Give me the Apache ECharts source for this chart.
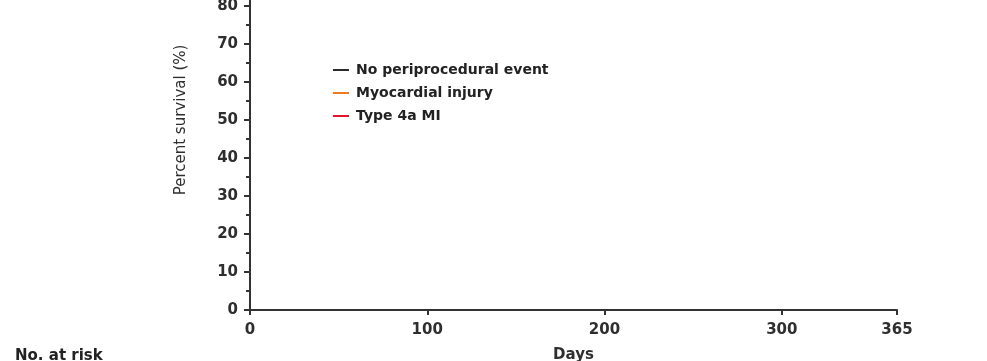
<!DOCTYPE html>
<html>
<head>
<meta charset="utf-8">
<script src="https://cdn.jsdelivr.net/npm/echarts@6/dist/echarts.min.js"></script>
<style>
  html, body { margin: 0; padding: 0; background: #fff; }
  #chart { width: 987px; height: 361px; }
</style>
</head>
<body>
<div id="chart"></div>
<script>
// Kaplan-Meier survival by periprocedural outcome (days 0-365)
const seriesNames = ['No periprocedural event', 'Myocardial injury', 'Type 4a MI'];
const seriesColors = ['#2b2b2b', '#f07a1e', '#e3142d'];

// Step-curve knots: day and percent surviving
const noEventDays = [0, 365];
const noEventSurv = [100, 98];
const injuryDays = [0, 365];
const injurySurv = [100, 97];
const type4aDays = [0, 365];
const type4aSurv = [100, 95];

const xTicks = [0, 100, 200, 300, 365];

function pairs(xs, ys) { return xs.map((x, i) => [x, ys[i]]); }

const curves = [
  pairs(noEventDays, noEventSurv),
  pairs(injuryDays, injurySurv),
  pairs(type4aDays, type4aSurv)
];

const font = '"DejaVu Sans", "Liberation Sans", sans-serif';
const axisColor = '#333';
const labelColor = '#2e2e2e';

const chart = echarts.init(document.getElementById('chart'));
chart.setOption({
  animation: false,
  textStyle: { fontFamily: font },
  grid: { left: 250, right: 90, top: -70, height: 380, outerBoundsMode: 'none', containLabel: false },
  legend: {
    orient: 'vertical',
    left: 328,
    top: 58,
    itemWidth: 16,
    itemHeight: 2,
    itemGap: 9,
    icon: 'rect',
    data: seriesNames,
    textStyle: { fontFamily: font, fontWeight: 'bold', fontSize: 14, color: '#222', padding: [0, 0, 0, 2] }
  },
  xAxis: {
    type: 'value',
    min: 0,
    max: 365,
    name: 'Days',
    nameLocation: 'middle',
    nameGap: 38,
    nameTextStyle: { fontFamily: font, fontWeight: 'bold', fontSize: 15, color: labelColor },
    splitLine: { show: false },
    axisLine: { show: true, lineStyle: { color: axisColor, width: 2 } },
    axisTick: { show: true, length: 5, lineStyle: { color: axisColor, width: 2 }, customValues: xTicks },
    axisLabel: {
      fontFamily: font, fontWeight: 'bold', fontSize: 15, color: labelColor, margin: 13,
      customValues: xTicks, showMaxLabel: true
    }
  },
  yAxis: {
    type: 'value',
    min: 0,
    max: 100,
    interval: 10,
    name: 'Percent survival (%)',
    nameLocation: 'middle',
    nameGap: 61,
    nameTextStyle: { fontFamily: font, fontSize: 15, color: labelColor },
    splitLine: { show: false },
    axisLine: { show: true, lineStyle: { color: axisColor, width: 2 } },
    axisTick: { show: true, length: 6, lineStyle: { color: axisColor, width: 2 } },
    minorTick: { show: true, splitNumber: 2, length: 4, lineStyle: { color: axisColor, width: 2 } },
    axisLabel: { fontFamily: font, fontWeight: 'bold', fontSize: 15, color: labelColor, margin: 12 }
  },
  series: curves.map((d, i) => ({
    name: seriesNames[i],
    type: 'line',
    step: 'end',
    symbol: 'none',
    data: d,
    lineStyle: { color: seriesColors[i], width: 2 },
    itemStyle: { color: seriesColors[i] }
  })),
  graphic: [{
    type: 'text',
    left: 15,
    top: 349,
    style: { text: 'No. at risk', font: 'bold 15px ' + font, fill: '#222' }
  }]
});
</script>
</body>
</html>
